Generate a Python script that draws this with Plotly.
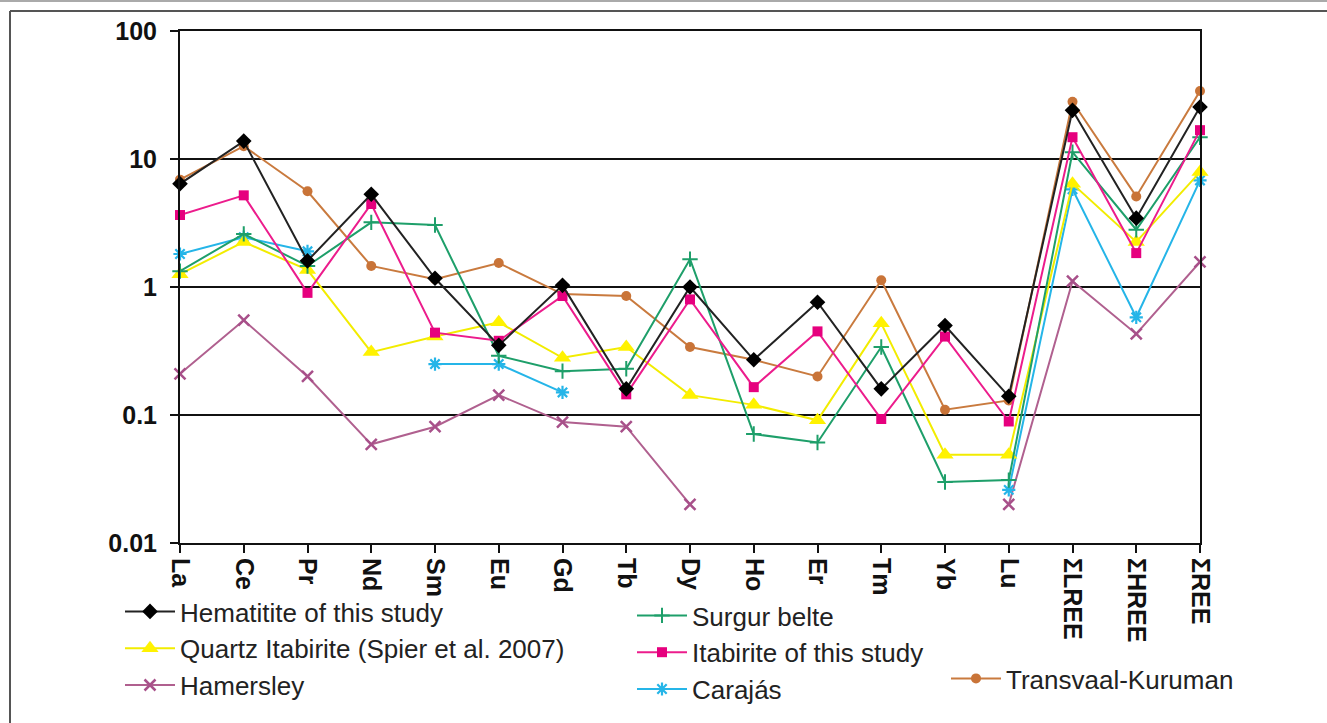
import plotly.graph_objects as go

elements = ["La", "Ce", "Pr", "Nd", "Sm", "Eu", "Gd", "Tb", "Dy", "Ho", "Er", "Tm",
            "Yb", "Lu", "ΣLREE", "ΣHREE", "ΣREE"]

hematitite = [6.4, 13.8, 1.6, 5.3, 1.17, 0.35, 1.03, 0.16, 1.0, 0.27, 0.76, 0.16,
              0.50, 0.14, 24.0, 3.45, 25.5]
itabirite = [3.65, 5.2, 0.9, 4.45, 0.44, 0.38, 0.85, 0.145, 0.8, 0.165, 0.45, 0.093,
             0.41, 0.089, 14.8, 1.84, 16.8]
surgur = [1.33, 2.6, 1.46, 3.2, 3.05, 0.29, 0.22, 0.23, 1.65, 0.071, 0.061, 0.34,
          0.030, 0.031, 11.3, 2.8, 14.8]
quartz_itabirite = [1.26, 2.25, 1.36, 0.31, 0.41, 0.53, 0.28, 0.34, 0.143, 0.12, 0.091, 0.52,
                    0.049, 0.049, 6.4, 2.25, 7.9]
hamersley = [0.21, 0.55, 0.2, 0.059, 0.081, 0.143, 0.088, 0.081, 0.02, None, None, None,
             None, 0.02, 1.11, 0.43, 1.57]
carajas = [1.81, 2.45, 1.9, None, 0.25, 0.25, 0.15, None, None, None, None, None,
           None, 0.026, 5.8, 0.58, 6.8]
transvaal = [6.9, 12.6, 5.6, 1.46, 1.15, 1.54, 0.88, 0.85, 0.34, 0.27, 0.20, 1.13,
             0.11, 0.13, 28.0, 5.1, 34.0]

y_ticks = [0.01, 0.1, 1, 10, 100]
y_tick_labels = ["0.01", "0.1", "1", "10", "100"]

FONT = "Liberation Sans, Arial, sans-serif"

series = [
    # name, values, line colour, marker colour, symbol, size, marker line width, legend, rank
    ("Hamersley", hamersley, "#B0608F", "#A8508A", "x-thin", 11, 2.5, "legend", 3),
    ("Carajás", carajas, "#25B5E8", "#25B5E8", "asterisk", 11, 2.2, "legend2", 3),
    ("Quartz Itabirite (Spier et al. 2007)", quartz_itabirite, "#F2EC00", "#FFF200",
     "triangle-up", 15, 0, "legend", 2),
    ("Transvaal-Kuruman", transvaal, "#C97A3E", "#C97438", "circle", 10, 0, "legend3", 1),
    ("Surgur belte", surgur, "#1E9F6A", "#1E9F6A", "cross-thin", 11, 2, "legend2", 1),
    ("Itabirite of this study", itabirite, "#EC1C8C", "#E6007E", "square", 10, 0, "legend2", 2),
    ("Hematitite of this study", hematitite, "#222222", "#000000", "diamond", 12, 0, "legend", 1),
]

fig = go.Figure()
for name, vals, lc, mc, sym, size, mlw, leg, rank in series:
    marker = dict(symbol=sym, size=size, color=mc)
    if mlw:
        marker["line"] = dict(color=mc, width=mlw)
    fig.add_trace(go.Scatter(
        x=elements, y=vals, name=name, mode="lines+markers",
        line=dict(color=lc, width=2), marker=marker,
        connectgaps=False, cliponaxis=False,
        legend=leg, legendrank=rank, legendgroup=name,
    ))

W, H = 1327, 723
L, R, T, B = 180, 127, 31, 180
pw, ph = W - L - R, H - T - B


def px_x(p):
    return (p - L) / pw


def px_y(p):
    return (H - B - p) / ph


legend_common = dict(
    font=dict(family=FONT, size=26, color="#222222"),
    bgcolor="rgba(0,0,0,0)", xanchor="left", yanchor="top",
    traceorder="grouped", tracegroupgap=0, itemwidth=50,
)

fig.update_layout(
    width=W, height=H,
    margin=dict(l=L, r=R, t=T, b=B, autoexpand=False),
    paper_bgcolor="white", plot_bgcolor="white",
    font=dict(family=FONT, color="#111111"),
    showlegend=True,
    legend=dict(x=px_x(120), y=px_y(588), **legend_common),
    legend2=dict(x=px_x(632), y=px_y(592), **legend_common),
    legend3=dict(x=px_x(946), y=px_y(655), **legend_common),
    xaxis=dict(
        type="category", categoryorder="array", categoryarray=elements,
        range=[0, len(elements) - 1],
        showgrid=False, showline=True, linecolor="#111111", linewidth=2, mirror=True,
        ticks="outside", ticklen=8, tickwidth=2, tickcolor="#111111",
        tickangle=90,
        tickfont=dict(family=FONT, size=25, color="#111111", weight="bold"),
        zeroline=False,
    ),
    yaxis=dict(
        type="log", range=[-2, 2],
        tickvals=y_ticks, ticktext=y_tick_labels,
        showgrid=True, gridcolor="#111111", gridwidth=2,
        showline=True, linecolor="#111111", linewidth=2, mirror=True,
        ticks="outside", ticklen=8, tickwidth=2, tickcolor="#111111",
        ticklabelstandoff=8,
        tickfont=dict(family=FONT, size=25, color="#111111", weight="bold"),
        zeroline=False,
    ),
    shapes=[
        dict(type="line", xref="paper", yref="paper", x0=px_x(0), x1=px_x(W),
             y0=px_y(1), y1=px_y(1), line=dict(color="#AAAAAA", width=2)),
        dict(type="line", xref="paper", yref="paper", x0=px_x(10), x1=px_x(W),
             y0=px_y(11), y1=px_y(11), line=dict(color="#555555", width=2)),
        dict(type="line", xref="paper", yref="paper", x0=px_x(10), x1=px_x(10),
             y0=px_y(11), y1=px_y(H), line=dict(color="#555555", width=2)),
    ],
)

fig.write_html("out.html", config={"displayModeBar": False},
               post_script="document.body.style.margin='0';")
